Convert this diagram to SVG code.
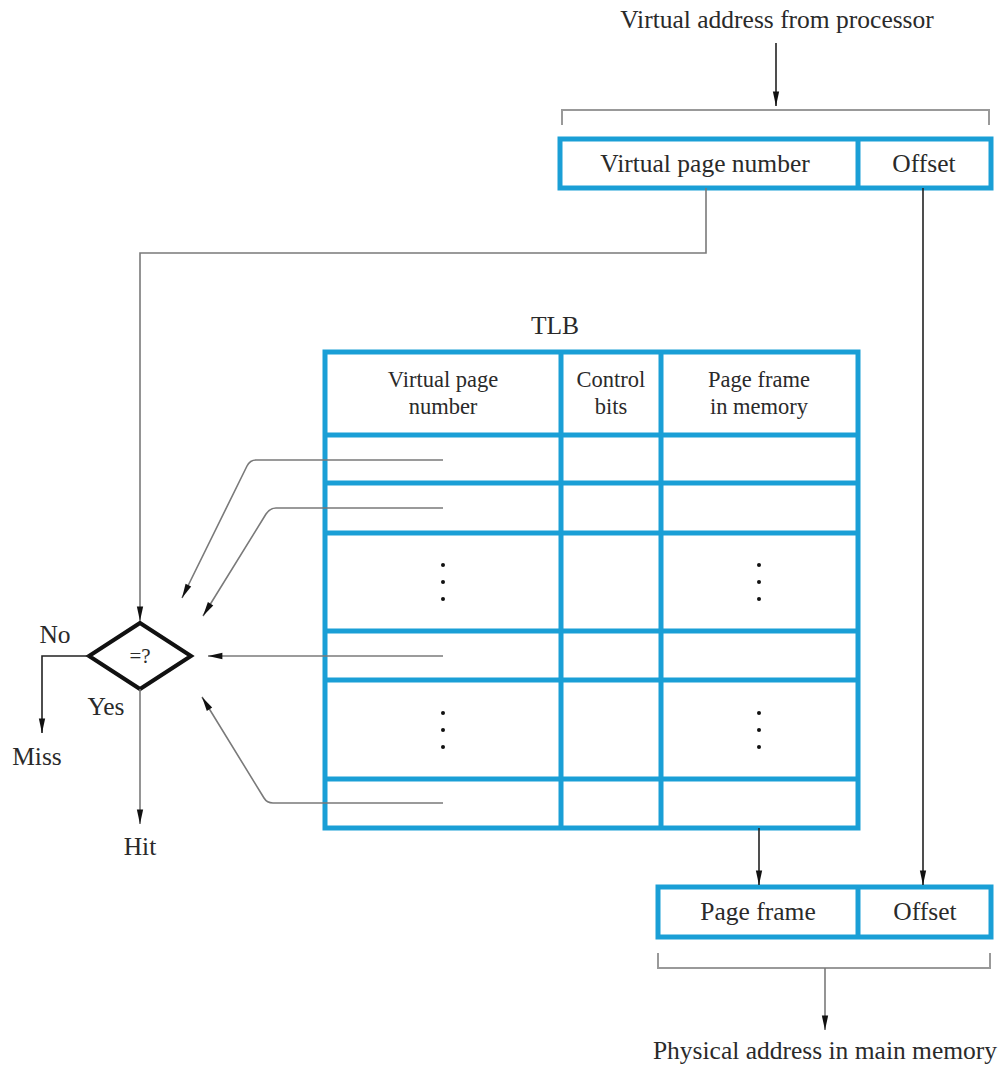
<svg xmlns="http://www.w3.org/2000/svg" width="1000" height="1065" viewBox="0 0 1000 1065">
<style>
text{font-size:25.5px;fill:#2a2a2a;text-anchor:middle}
.hd{font-size:22.5px}
.box{fill:none;stroke:#1a9fd6;stroke-width:5}
.grid{stroke:#1a9fd6;stroke-width:5;fill:none}
.ln{fill:none;stroke:#7a7a7a;stroke-width:1.6}
.lk{fill:none;stroke:#222;stroke-width:1.6}
.br{fill:none;stroke:#999;stroke-width:2}
</style>
<defs>
<marker id="ahl" viewBox="0 0 16 10" refX="16" refY="5" markerWidth="16" markerHeight="9" markerUnits="userSpaceOnUse" orient="auto">
<path d="M0,1.5 L16,5 L0,8.5 Z" fill="#111"/>
</marker>
</defs>

<g id="virtual-address-label" font-family="Liberation Serif"><text x="777" y="28">Virtual address from processor</text></g>

<g id="virtual-address" font-family="Liberation Serif">
<path class="br" d="M562,125 V110 H989 V125"/>
<rect class="box" x="560" y="139" width="431" height="49"/>
<line class="grid" x1="858" y1="139" x2="858" y2="188"/>
<text x="705" y="172">Virtual page number</text>
<text x="924" y="172">Offset</text>
</g>

<g id="tlb" font-family="Liberation Serif">
<text x="555" y="334">TLB</text>
<rect class="box" x="325" y="352" width="533" height="476"/>
<path class="grid" d="M561,352 V828 M661,352 V828 M325,435 H858 M325,483 H858 M325,533 H858 M325,631 H858 M325,680 H858 M325,779 H858"/>
<text class="hd" x="443" y="387">Virtual page</text>
<text class="hd" x="443" y="414">number</text>
<text class="hd" x="611" y="387">Control</text>
<text class="hd" x="611" y="414">bits</text>
<text class="hd" x="759" y="387">Page frame</text>
<text class="hd" x="759" y="414">in memory</text>
<g fill="#111">
<circle cx="443" cy="565" r="2"/><circle cx="443" cy="582" r="2"/><circle cx="443" cy="599" r="2"/>
<circle cx="759" cy="565" r="2"/><circle cx="759" cy="582" r="2"/><circle cx="759" cy="599" r="2"/>
<circle cx="443" cy="713" r="2"/><circle cx="443" cy="730" r="2"/><circle cx="443" cy="747" r="2"/>
<circle cx="759" cy="713" r="2"/><circle cx="759" cy="730" r="2"/><circle cx="759" cy="747" r="2"/>
</g>
</g>

<g id="compare" font-family="Liberation Serif">
<path d="M140,623 L191,656 L140,689 L89,656 Z" fill="#fff" stroke="#111" stroke-width="4" stroke-linejoin="miter"/>
<text x="140" y="663" style="font-size:21px">=?</text>
</g>

<g id="labels" font-family="Liberation Serif">
<text x="55" y="643">No</text>
<text x="37" y="765">Miss</text>
<text x="106" y="715">Yes</text>
<text x="140" y="855">Hit</text>
</g>

<g id="physical-address" font-family="Liberation Serif">
<rect class="box" x="658" y="887" width="333" height="50"/>
<line class="grid" x1="858" y1="887" x2="858" y2="937"/>
<text x="758" y="920">Page frame</text>
<text x="925" y="920">Offset</text>
<path class="br" d="M658,953 V968 H990 V953"/>
<text x="825" y="1059">Physical address in main memory</text>
</g>

<g id="connectors">
<line class="lk" x1="776" y1="43" x2="776" y2="106" marker-end="url(#ahl)"/>
<path class="ln" d="M706,188 V253 H140 V621" marker-end="url(#ahl)"/>
<line class="lk" x1="923" y1="188" x2="923" y2="885" marker-end="url(#ahl)"/>
<path class="ln" d="M443,460 H256 Q250,460 247,466 L182,598" marker-end="url(#ahl)"/>
<path class="ln" d="M443,508 H276 Q270,508 266,514 L203,616" marker-end="url(#ahl)"/>
<path class="ln" d="M443,656 H208" marker-end="url(#ahl)"/>
<path class="ln" d="M443,803 H273 Q267,803 264,798 L202,697" marker-end="url(#ahl)"/>
<path class="lk" d="M89,656 H42 V733" marker-end="url(#ahl)"/>
<line class="ln" x1="140" y1="689" x2="140" y2="824" marker-end="url(#ahl)"/>
<line class="lk" x1="759" y1="828" x2="759" y2="885" marker-end="url(#ahl)"/>
<line class="ln" x1="825" y1="968" x2="825" y2="1030" marker-end="url(#ahl)"/>
</g>
</svg>
